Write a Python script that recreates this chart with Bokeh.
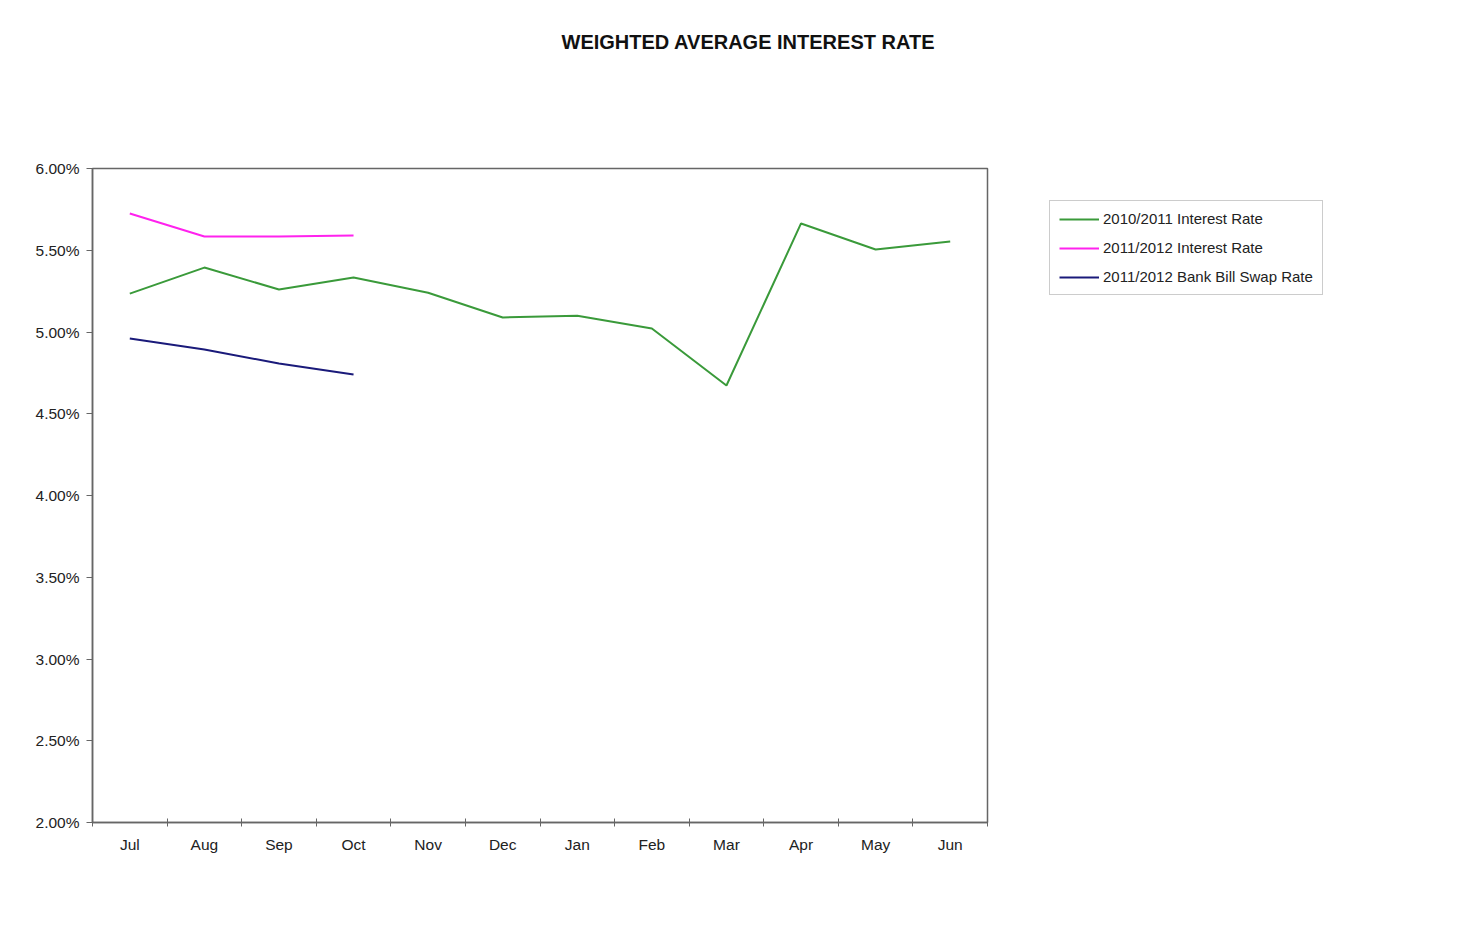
from bokeh.plotting import figure
from bokeh.models import (Range1d, FixedTicker, Legend, LegendItem, Title,
                          CustomJSTickFormatter)
from bokeh.embed import file_html
from bokeh.resources import INLINE

months = ["Jul", "Aug", "Sep", "Oct", "Nov", "Dec", "Jan", "Feb", "Mar", "Apr", "May", "Jun"]
rate_2010_11 = [5.235, 5.394, 5.26, 5.333, 5.24, 5.089, 5.10, 5.021, 4.673, 5.664, 5.505, 5.553]
rate_2011_12 = [5.725, 5.584, 5.584, 5.59]
bbsw_2011_12 = [4.96, 4.893, 4.807, 4.74]
y_ticks = [2.0, 2.5, 3.0, 3.5, 4.0, 4.5, 5.0, 5.5, 6.0]

FONT = "Liberation Sans"

p = figure(frame_width=895, frame_height=654, output_backend="svg", toolbar_location=None,
           x_range=Range1d(0, 12), y_range=Range1d(2.0, 6.0),
           min_border_left=92, min_border_right=40, min_border_top=168,
           min_border_bottom=113)
p.background_fill_color = "white"
p.border_fill_color = "white"
p.outline_line_color = "#666666"
p.outline_line_width = 1.5
p.xgrid.visible = False
p.ygrid.visible = False

centers = [i + 0.5 for i in range(len(months))]
p.xaxis.ticker = FixedTicker(ticks=centers, minor_ticks=list(range(len(months) + 1)))
p.xaxis.major_label_overrides = {c: m for c, m in zip(centers, months)}
p.xaxis.major_tick_out = 0
p.xaxis.major_tick_in = 0
p.xaxis.minor_tick_out = 4
p.xaxis.minor_tick_in = 4
p.xaxis.minor_tick_line_color = "#666666"
p.xaxis.major_label_standoff = 9

p.yaxis.ticker = FixedTicker(ticks=y_ticks, minor_ticks=[])
p.yaxis.formatter = CustomJSTickFormatter(code="return tick.toFixed(2) + '%';")
p.yaxis.major_tick_out = 6
p.yaxis.major_tick_in = 0
p.yaxis.major_label_standoff = 7

for ax in (p.xaxis[0], p.yaxis[0]):
    ax.axis_line_color = "#666666"
    ax.axis_line_width = 1.5
    ax.major_tick_line_color = "#666666"
    ax.major_label_text_font = FONT
    ax.major_label_text_font_size = "15.5px"
    ax.major_label_text_color = "#222222"

r1 = p.line(centers, rate_2010_11, line_color="#3a9a3a", line_width=2)
r2 = p.line(centers[:len(rate_2011_12)], rate_2011_12, line_color="#ff22ee", line_width=2)
r3 = p.line(centers[:len(bbsw_2011_12)], bbsw_2011_12, line_color="#1a1a7a", line_width=2)

legend = Legend(items=[LegendItem(label="2010/2011 Interest Rate", renderers=[r1]),
                       LegendItem(label="2011/2012 Interest Rate", renderers=[r2]),
                       LegendItem(label="2011/2012 Bank Bill Swap Rate", renderers=[r3])],
                location=(62, 527))
legend.border_line_color = "#999999"
legend.border_line_width = 1
legend.label_text_font = FONT
legend.label_text_font_size = "15px"
legend.label_text_color = "#222222"
legend.glyph_width = 40
legend.glyph_height = 14
legend.label_standoff = 4
legend.spacing = 12
legend.padding = 9
legend.margin = 0
legend.label_height = 14
p.add_layout(legend, "right")

# spacer panel between the frame and the title
spacer = Title(text=" ", text_font_size="1px", standoff=110, text_color="white")
p.add_layout(spacer, "above")

title = Title(text="WEIGHTED AVERAGE INTEREST RATE", text_font=FONT,
              text_font_size="20px", text_font_style="bold", align="left",
              offset=561 - 92, standoff=5, text_color="#111111")
p.add_layout(title, "above")

open("out.html", "w").write(file_html(p, INLINE))
